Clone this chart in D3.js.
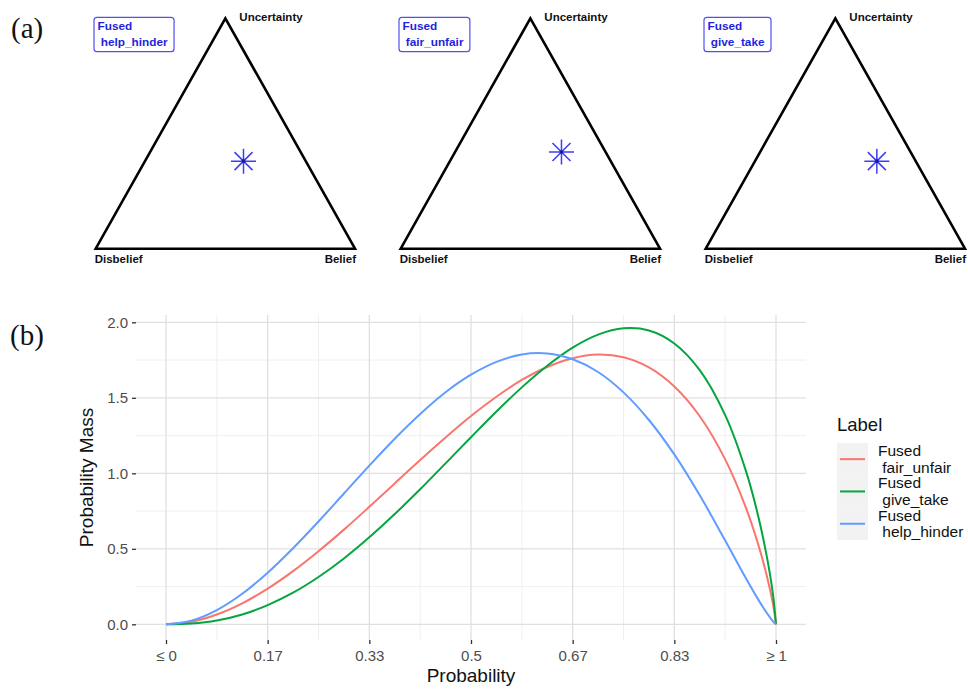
<!DOCTYPE html>
<html><head><meta charset="utf-8">
<script src="https://cdn.jsdelivr.net/npm/d3@7"></script>
<style>
body{margin:0;background:#fff}
svg{display:block}
text{font-family:"Liberation Sans",Arial,Helvetica,sans-serif}
</style>
</head><body><svg id="c" width="968" height="689"></svg>
<script>
// ---------- data: panel (a) opinions ----------
const opinionLabels = ["Fused\n help_hinder", "Fused\n fair_unfair", "Fused\n give_take"];
const belief      = [0.38, 0.41, 0.47];
const disbelief   = [0.24, 0.17, 0.15];
const uncertainty = [0.38, 0.42, 0.38];

// ---------- data: panel (b) probability mass ----------
const probX      = [0, 0.0417, 0.0833, 0.125, 0.1667, 0.2083, 0.25, 0.2917, 0.3333, 0.375, 0.4167, 0.4583, 0.5, 0.5417, 0.5833, 0.625, 0.6667, 0.7083, 0.75, 0.7917, 0.8333, 0.875, 0.9167, 0.95, 0.97, 0.985, 0.995, 1];
const fairUnfair = [0, 0.017, 0.065, 0.139, 0.236, 0.352, 0.484, 0.627, 0.778, 0.933, 1.088, 1.237, 1.379, 1.507, 1.618, 1.704, 1.762, 1.786, 1.768, 1.701, 1.575, 1.378, 1.092, 0.779, 0.540, 0.320, 0.135, 0];
const giveTake   = [0, 0.005, 0.025, 0.065, 0.127, 0.209, 0.313, 0.436, 0.576, 0.730, 0.894, 1.066, 1.239, 1.409, 1.569, 1.712, 1.832, 1.918, 1.960, 1.946, 1.860, 1.683, 1.385, 1.024, 0.731, 0.448, 0.199, 0];
const helpHinder = [0, 0.024, 0.094, 0.202, 0.342, 0.504, 0.681, 0.866, 1.051, 1.229, 1.393, 1.537, 1.653, 1.738, 1.787, 1.794, 1.755, 1.671, 1.536, 1.353, 1.125, 0.854, 0.555, 0.310, 0.170, 0.075, 0.020, 0];
const seriesNames  = ["Fused\n fair_unfair", "Fused\n give_take", "Fused\n help_hinder"];
const seriesColors = ["#F8766D", "#05A540", "#619CFF"];
const xTickValues = [0, 1/6, 1/3, 0.5, 2/3, 5/6, 1];
const xTickLabels = ["≤ 0", "0.17", "0.33", "0.5", "0.67", "0.83", "≥ 1"];
const yTickValues = [0, 0.5, 1, 1.5, 2];
const yTickLabels = ["0.0", "0.5", "1.0", "1.5", "2.0"];

const svg = d3.select("#c");

// ---------- panel letters ----------
svg.append("text").attr("x", 11).attr("y", 38).text("(a)")
  .style("font-family", "'Liberation Serif','Times New Roman',serif").style("font-size", "29px").attr("fill", "#111");
svg.append("text").attr("x", 10).attr("y", 345).text("(b)")
  .style("font-family", "'Liberation Serif','Times New Roman',serif").style("font-size", "29px").attr("fill", "#111");

// ---------- ternary panels ----------
const triLefts = [95.7, 400.7, 705.7];
const triW = 259.3, triTop = 18.3, triBottom = 248.7;
triLefts.forEach((left, i) => {
  const tx = d3.scaleLinear().domain([0, 1]).range([left, left + triW]);
  const ty = d3.scaleLinear().domain([0, 1]).range([triBottom, triTop]);
  const g = svg.append("g");
  const pts = [[tx(0), ty(0)], [tx(1), ty(0)], [tx(0.5), ty(1)]];
  g.append("path").attr("d", "M" + pts.map(p => p.join(",")).join("L") + "Z")
    .attr("fill", "none").attr("stroke", "#000").attr("stroke-width", 2.6).attr("stroke-linejoin", "miter");
  g.append("text").attr("x", tx(0.5) + 14).attr("y", 20.5).text("Uncertainty")
    .style("font-size", "11.5px").style("font-weight", "bold").attr("fill", "#111");
  g.append("text").attr("x", tx(0) - 1).attr("y", 262.5).text("Disbelief")
    .style("font-size", "11.5px").style("font-weight", "bold").attr("fill", "#111");
  g.append("text").attr("x", tx(1) + 1).attr("y", 262.5).attr("text-anchor", "end").text("Belief")
    .style("font-size", "11.5px").style("font-weight", "bold").attr("fill", "#111");

  // star
  const u = uncertainty[i], b = belief[i];
  const sx = tx(b + u / 2), sy = ty(u);
  const r = 12.5, d = r * 0.72;
  g.append("path")
    .attr("d", `M${sx},${sy - r}V${sy + r}M${sx - r},${sy}H${sx + r}M${sx - d},${sy - d}L${sx + d},${sy + d}M${sx - d},${sy + d}L${sx + d},${sy - d}`)
    .attr("stroke", "#3d3df5").attr("stroke-width", 1.5).attr("fill", "none");
  g.append("circle").attr("cx", sx).attr("cy", sy).attr("r", 1.8).attr("fill", "#1a1aa0");

  // label box
  const lines = opinionLabels[i].split("\n");
  const lt = g.append("text").attr("fill", "#1f1fe0").style("font-size", "11.8px").style("font-weight", "bold")
    .attr("xml:space", "preserve").style("white-space", "pre");
  lines.forEach((ln, k) => {
    lt.append("tspan").attr("x", left + 1.8).attr("y", 30.3 + k * 15.7).text(ln);
  });
  const bb = lt.node().getBBox();
  g.insert("rect", "text")
    .attr("x", left - 1.7).attr("y", 17.3)
    .attr("width", bb.x + bb.width - (left - 1.7) + 6).attr("height", 34.4)
    .attr("rx", 3).attr("fill", "#fff").attr("stroke", "#5050f0").attr("stroke-width", 1.2);
});

// ---------- probability mass chart ----------
const panel = {l: 136, r: 806, t: 315, b: 640};
const x = d3.scaleLinear().domain([0, 1]).range([166, 776]);
const y = d3.scaleLinear().domain([0, 2]).range([624.3, 322.3]);

const grid = svg.append("g");
const xMinor = xTickValues.slice(1).map((v, i) => (v + xTickValues[i]) / 2);
const yMinor = yTickValues.slice(1).map((v, i) => (v + yTickValues[i]) / 2);
grid.selectAll(".xm").data(xMinor).join("line")
  .attr("x1", d => x(d)).attr("x2", d => x(d)).attr("y1", panel.t).attr("y2", panel.b)
  .attr("stroke", "#ededed").attr("stroke-width", 0.9);
grid.selectAll(".ym").data(yMinor).join("line")
  .attr("y1", d => y(d)).attr("y2", d => y(d)).attr("x1", panel.l).attr("x2", panel.r)
  .attr("stroke", "#ededed").attr("stroke-width", 0.9);
grid.selectAll(".xM").data(xTickValues).join("line")
  .attr("x1", d => x(d)).attr("x2", d => x(d)).attr("y1", panel.t).attr("y2", panel.b)
  .attr("stroke", "#e0e0e0").attr("stroke-width", 1.3);
grid.selectAll(".yM").data(yTickValues).join("line")
  .attr("y1", d => y(d)).attr("y2", d => y(d)).attr("x1", panel.l).attr("x2", panel.r)
  .attr("stroke", "#e0e0e0").attr("stroke-width", 1.3);

// axes
const xAxis = d3.axisBottom(x).tickValues(xTickValues).tickFormat((d, i) => xTickLabels[i]).tickSize(4).tickPadding(6);
const gx = svg.append("g").attr("transform", `translate(0,${panel.b})`).call(xAxis);
gx.select(".domain").remove();
gx.selectAll(".tick line").attr("stroke", "#333").attr("stroke-width", 1.3);
gx.selectAll(".tick text").attr("fill", "#4d4d4d").style("font-size", "15px").attr("dy", "0.71em");

const yAxis = d3.axisLeft(y).tickValues(yTickValues).tickFormat((d, i) => yTickLabels[i]).tickSize(4).tickPadding(4);
const gy = svg.append("g").attr("transform", `translate(${panel.l},0)`).call(yAxis);
gy.select(".domain").remove();
gy.selectAll(".tick line").attr("stroke", "#333").attr("stroke-width", 1.3);
gy.selectAll(".tick text").attr("fill", "#4d4d4d").style("font-size", "15px");

svg.append("text").attr("x", (panel.l + panel.r) / 2).attr("y", 682).attr("text-anchor", "middle")
  .text("Probability").style("font-size", "19px").attr("fill", "#111");
svg.append("text").attr("transform", `translate(93,${(panel.t + panel.b) / 2}) rotate(-90)`).attr("text-anchor", "middle")
  .text("Probability Mass").style("font-size", "19px").attr("fill", "#111");

// curves
const seriesValues = [fairUnfair, giveTake, helpHinder];
const line = d3.line().x(d => x(d[0])).y(d => y(d[1])).curve(d3.curveCatmullRom.alpha(0.5));
seriesValues.forEach((vals, i) => {
  svg.append("path").datum(probX.map((p, k) => [p, vals[k]]))
    .attr("d", line).attr("fill", "none").attr("stroke", seriesColors[i]).attr("stroke-width", 2);
});

// legend
const lg = svg.append("g");
lg.append("text").attr("x", 837).attr("y", 431).text("Label").style("font-size", "18.5px").attr("fill", "#111");
const keyTop = 443, keyH = 32.3;
seriesNames.forEach((name, i) => {
  const ky = keyTop + i * keyH;
  lg.append("rect").attr("x", 837).attr("y", ky).attr("width", 31).attr("height", keyH).attr("fill", "#f2f2f2");
  lg.append("line").attr("x1", 840).attr("x2", 865).attr("y1", ky + keyH / 2).attr("y2", ky + keyH / 2)
    .attr("stroke", seriesColors[i]).attr("stroke-width", 2);
  const t = lg.append("text").attr("fill", "#111").style("font-size", "15.5px").attr("xml:space", "preserve").style("white-space", "pre");
  name.split("\n").forEach((ln, k) => {
    t.append("tspan").attr("x", 878).attr("y", ky + keyH / 2 - 3 + k * 16.5).text(ln);
  });
});
</script>
</body></html>
